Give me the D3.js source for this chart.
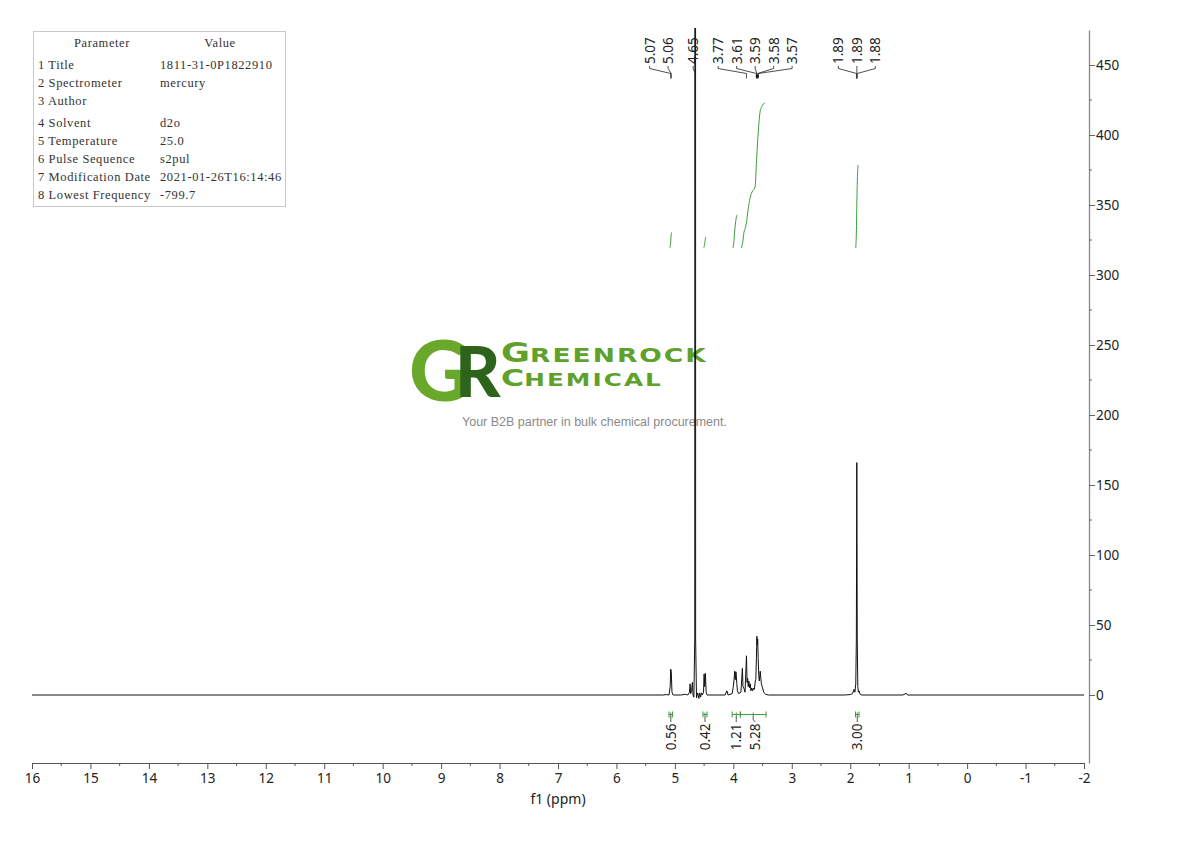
<!DOCTYPE html>
<html><head><meta charset="utf-8">
<script src="https://cdn.jsdelivr.net/npm/d3@7"></script>
<style>body{margin:0;background:#fff}svg{display:block}</style>
</head><body>
<svg id="chart" width="1190" height="841"></svg>
<script>
// ---------------- DATA ----------------
const paramHeader = ["Parameter", "Value"];
const paramNames = ["1 Title","2 Spectrometer","3 Author","4 Solvent","5 Temperature","6 Pulse Sequence","7 Modification Date","8 Lowest Frequency"];
const paramValues = ["1811-31-0P1822910","mercury","","d2o","25.0","s2pul","2021-01-26T16:14:46","-799.7"];

const xTickValues = [16,15,14,13,12,11,10,9,8,7,6,5,4,3,2,1,0,-1,-2];
const yTickValues = [0,50,100,150,200,250,300,350,400,450];

// spectrum trace (ppm, intensity)
const specPpm = [16.0,5.20,5.15,5.10,5.08,5.072,5.062,5.05,5.03,4.90,4.82,4.78,4.75,4.74,4.73,4.715,4.70,4.69,4.675,4.66,4.652,4.645,4.63,4.61,4.59,4.575,4.56,4.545,4.53,4.51,4.50,4.49,4.478,4.465,4.45,4.30,4.14,4.11,4.09,4.02,4.00,3.99,3.975,3.965,3.955,3.94,3.93,3.91,3.87,3.845,3.835,3.82,3.80,3.775,3.765,3.755,3.745,3.735,3.72,3.71,3.70,3.685,3.67,3.655,3.64,3.625,3.615,3.605,3.597,3.59,3.583,3.575,3.565,3.555,3.54,3.53,3.52,3.50,3.48,3.45,3.40,2.10,2.00,1.96,1.935,1.92,1.905,1.895,1.887,1.880,1.87,1.86,1.85,1.83,1.80,1.10,1.04,1.02,-2.0];
const specInt = [0,0,0.3,0,6,18.5,17,2,0,0,0.5,0,2,8,1,3,9,0,-1.5,40,3000,40,-2,1.5,-2.5,1.5,-1.5,1.5,0,2,15,6,15.5,2,0,0,0,3,0,1,6,10,17,11,16.5,8,3,1,2,19,6,5,2,28,9,12,6,10,5,8,3,5,3,5,4,10,11,27,42,36,40,26,14,10,17,12,8,5,2,0.5,0,0,0.3,1,4,2,8,40,166,40,6,2,3,0.5,0,0,1.2,0,0];

// peak labels
const peakLabelText = ["5.07","5.06","4.65","3.77","3.61","3.59","3.58","3.57","1.89","1.89","1.88"];
const peakLabelPpm  = [5.072,5.062,4.652,3.775,3.605,3.597,3.583,3.575,1.890,1.887,1.882];
const peakLabelGroup = [0,0,1,2,2,2,2,2,3,3,3];

// integral curves (ppm, running integral in y units)
const integralPpm = [
  [5.085,5.075,5.065,5.055],
  [4.505,4.495,4.48,4.47],
  [4.005,3.99,3.975,3.96,3.945,3.93],
  [3.859,3.834,3.817,3.800,3.774,3.748,3.714,3.680,3.628,3.603,3.577,3.543,3.509,3.458],
  [1.905,1.895,1.885,1.875,1.865]
];
const integralVal = [
  [319.5,322,328,330.5],
  [319.5,321,325.5,327],
  [319.3,324,332,338,342,343],
  [319.3,325,330.7,332.9,337.9,346.4,355,359.3,362.9,382.1,400,416.4,420.7,422.9],
  [319.3,330,355,372,378.6]
];
const intLabelText = ["0.56","0.42","1.21","5.28","3.00"];
const intFrom = [5.10,4.52,4.02,3.88,1.91];
const intTo   = [5.04,4.45,3.88,3.44,1.85];

// ---------------- DRAW ----------------
const svg = d3.select("#chart");
const tickFont = "'Noto Sans', 'Open Sans', sans-serif";
const xScale = d3.scaleLinear().domain([16,-2]).range([32,1084]);
const yScale = d3.scaleLinear().domain([-48.57,475]).range([763,30]);
const green = "#3d9c3d";

// parameter table
const tbl = svg.append("g");
tbl.append("rect").attr("x",33.5).attr("y",31.5).attr("width",252).attr("height",175)
  .attr("fill","#fff").attr("stroke","#c8c8c8").attr("stroke-width",1);
const serif = "'Liberation Serif','DejaVu Serif',serif";
function tcell(x,y,t,anchor){
  tbl.append("text").attr("x",x).attr("y",y).attr("text-anchor",anchor||"start")
    .attr("font-family",serif).attr("font-size",12.5).attr("letter-spacing",0.6)
    .attr("fill","#333").text(t);
}
tcell(102,47,paramHeader[0],"middle");
tcell(220,47,paramHeader[1],"middle");
paramNames.forEach((n,i)=>{
  const y = 69 + i*18 + (i>=3?4:0);
  tcell(38,y,n);
  tcell(160,y,paramValues[i]);
});

// watermark logo
const logo = svg.append("g");
const mono = logo.append("text").attr("x",409).attr("y",401)
  .attr("font-family","Lato, 'DejaVu Sans', sans-serif").attr("font-weight",900);
mono.append("tspan").attr("font-size",84).attr("fill","#6aa82c").text("G");
mono.append("tspan").attr("x",455).attr("y",397).attr("font-size",70).attr("fill","#2d631b").text("R");
function fitText(sel, x, y, w){
  const bb = sel.node().getBBox();
  sel.attr("transform",`translate(${x},${y}) scale(${w/bb.width},1)`);
}
const t1 = logo.append("text").attr("font-family","'DejaVu Sans', sans-serif").attr("font-weight","bold").attr("fill","#5fa12a");
t1.append("tspan").attr("font-size",26).text("G");
t1.append("tspan").attr("font-size",19.5).attr("letter-spacing",1.5).text("REENROCK");
fitText(t1, 501, 362, 207);
const t2 = logo.append("text").attr("font-family","'DejaVu Sans', sans-serif").attr("font-weight","bold").attr("fill","#5fa12a");
t2.append("tspan").attr("font-size",23).text("C");
t2.append("tspan").attr("font-size",18).attr("letter-spacing",1.5).text("HEMICAL");
fitText(t2, 501, 386, 162);
logo.append("text").attr("x",594.5).attr("y",425.5).attr("text-anchor","middle")
  .attr("font-family","'Liberation Sans', Arial, sans-serif").attr("font-size",12.5)
  .attr("fill","#8a8a8a").text("Your B2B partner in bulk chemical procurement.");

// clip
svg.append("clipPath").attr("id","plotclip").append("rect")
  .attr("x",30).attr("y",28).attr("width",1056).attr("height",735);

// spectrum
const specData = specPpm.map((p,i)=>[p,specInt[i]]);
svg.append("path").datum(specData).attr("clip-path","url(#plotclip)")
  .attr("fill","none").attr("stroke","#111").attr("stroke-width",1)
  .attr("d", d3.line().x(d=>xScale(d[0])).y(d=>yScale(d[1])));

// integral curves
integralPpm.forEach((arr,k)=>{
  const data = arr.map((p,i)=>[p,integralVal[k][i]]);
  svg.append("path").datum(data).attr("fill","none").attr("stroke",green).attr("stroke-width",1)
    .attr("d", d3.line().curve(d3.curveMonotoneX).x(d=>xScale(d[0])).y(d=>yScale(d[1])));
});

// integral brackets + labels
const bracketY = 714.5;
intLabelText.forEach((t,i)=>{
  const x1 = xScale(intFrom[i]), x2 = xScale(intTo[i]);
  const cx = (x1+x2)/2;
  const g = svg.append("g");
  g.append("line").attr("x1",x1).attr("x2",x2).attr("y1",bracketY).attr("y2",bracketY).attr("stroke",green);
  [x1,x2].forEach(xx=>g.append("line").attr("x1",xx).attr("x2",xx).attr("y1",bracketY-3).attr("y2",bracketY+3).attr("stroke",green));
  g.append("line").attr("x1",cx).attr("x2",cx).attr("y1",bracketY-2).attr("y2",bracketY+1).attr("stroke",green);
  const lx = (i===3) ? cx+2 : cx;
  g.append("path").attr("fill","none").attr("stroke","#222").attr("stroke-width",0.8)
    .attr("d",`M${cx},${bracketY+1}L${cx},${bracketY+5}L${lx},${bracketY+7.5}`);
  g.append("text").attr("transform",`translate(${lx},${bracketY+9}) rotate(-90)`)
    .attr("text-anchor","end").attr("dy","0.36em").attr("font-family",tickFont)
    .attr("font-size",13.5).attr("fill","#222").text(t);
});

// peak labels with group layout
const items = peakLabelPpm.map((p,i)=>({i, p, g:peakLabelGroup[i], px:xScale(p)}));
const groups = d3.groups(items, d=>d.g).map(d=>d[1]);
const gap = 18.5, groupGap = 25;
groups.forEach(gr=>{
  const c = d3.mean(gr, d=>d.px);
  gr.forEach((d,k)=>{ d.lx = c + (k-(gr.length-1)/2)*gap; });
});
for (let pass=0; pass<10; pass++){
  for (let j=groups.length-1;j>0;j--){
    const prev=groups[j-1], cur=groups[j];
    const ov = prev[prev.length-1].lx + groupGap - cur[0].lx;
    if (ov>0) prev.forEach(d=>d.lx-=ov);
  }
}
const pl = svg.append("g");
items.forEach(d=>{
  pl.append("path").attr("fill","none").attr("stroke","#222").attr("stroke-width",0.8)
    .attr("d",`M${d.lx},66L${d.lx},68.5L${d.px},73.5L${d.px},78.5`);
  pl.append("text").attr("transform",`translate(${d.lx},64) rotate(-90)`)
    .attr("dy","0.36em").attr("font-family",tickFont).attr("font-size",13.5)
    .attr("fill","#222").text(peakLabelText[d.i]);
});
pl.append("circle").attr("cx",xScale(3.59)).attr("cy",76).attr("r",1.6).attr("fill","#111");

// x axis
const xg = svg.append("g").attr("transform","translate(0,763)");
xg.call(d3.axisBottom(xScale).tickValues(xTickValues).tickFormat(d=>String(d)).tickSize(6).tickPadding(4).tickSizeOuter(0));
xg.select(".domain").attr("stroke","#555");
xg.selectAll(".tick line").attr("stroke","#555");
xg.selectAll(".tick text").attr("font-family",tickFont).attr("font-size",13.5).attr("fill","#222");
const xMinor = xTickValues.slice(0,-1).map(v=>v-0.5);
xg.selectAll(".minor").data(xMinor).enter().append("line")
  .attr("x1",d=>xScale(d)).attr("x2",d=>xScale(d)).attr("y1",0).attr("y2",3).attr("stroke","#555");
svg.append("text").attr("x",558).attr("y",804).attr("text-anchor","middle")
  .attr("font-family",tickFont).attr("font-size",14).attr("fill","#222").text("f1 (ppm)");

// y axis (right)
const yg = svg.append("g").attr("transform","translate(1089,0)");
yg.call(d3.axisRight(yScale).tickValues(yTickValues).tickFormat(d=>String(d)).tickSize(6).tickPadding(1).tickSizeOuter(0));
yg.select(".domain").attr("stroke","#888").attr("stroke-width",1.3);
yg.selectAll(".tick line").attr("stroke","#666");
yg.selectAll(".tick text").attr("font-family",tickFont).attr("font-size",13.5).attr("fill","#222");
const yMinor = yTickValues.map(v=>v+25).filter(v=>v<475);
yg.selectAll(".minor").data(yMinor).enter().append("line")
  .attr("x1",0).attr("x2",3).attr("y1",d=>yScale(d)).attr("y2",d=>yScale(d)).attr("stroke","#666");
</script>
</body></html>
